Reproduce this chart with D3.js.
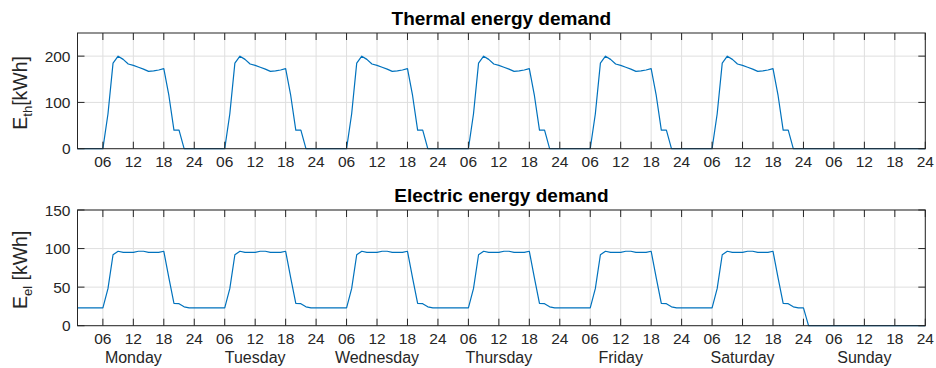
<!DOCTYPE html>
<meta charset="utf-8" />
<style>
  body { margin: 0; background: #fff; }
  text { font-family: "Liberation Sans", Arial, Helvetica, sans-serif; fill: #262626; }
  .grid line { stroke: #dfdfdf; stroke-width: 1px; }
  .frame { fill: none; stroke: #262626; stroke-width: 1px; }
  .tick { stroke: #262626; stroke-width: 1px; }
  .line { fill: none; stroke: #0072bd; stroke-width: 1.2px; stroke-linejoin: round; }
</style>
<body>
  <script src="https://d3js.org/d3.v7.min.js"></script>
  <script>
    // days of the week
    var days = ['Monday', 'Tuesday', 'Wednesday', 'Thursday', 'Friday', 'Saturday', 'Sunday'];
    var hourLabels = ['06', '12', '18', '24'];

    // hourly profiles (hour 1..24 of a day)
    var thermalWorkday = [0, 0, 0, 0, 0, 0, 75, 185, 200, 193, 183, 180, 176, 172, 167, 168, 170, 173, 115, 40, 40, 0, 0, 0];
    var thermalOff = [0, 0, 0, 0, 0, 0, 0, 0, 0, 0, 0, 0, 0, 0, 0, 0, 0, 0, 0, 0, 0, 0, 0, 0];
    var electricWorkday = [23, 23, 23, 23, 23, 23, 48, 92, 96.5, 95, 95, 95, 96.5, 96.5, 95, 95, 95, 96.5, 62, 29, 28.5, 24.5, 23, 23];
    var electricOff = [0, 0, 0, 0, 0, 0, 0, 0, 0, 0, 0, 0, 0, 0, 0, 0, 0, 0, 0, 0, 0, 0, 0, 0];

    // which profile each day uses
    var thermalByDay = [thermalWorkday, thermalWorkday, thermalWorkday, thermalWorkday, thermalWorkday, thermalWorkday, thermalOff];
    var electricByDay = [electricWorkday, electricWorkday, electricWorkday, electricWorkday, electricWorkday, electricWorkday, electricOff];

    // hour index runs 1..168 like the original
    var toSeries = function(byDay) {
      var out = [];
      byDay.forEach(function(profile, d) {
        profile.forEach(function(v, h) {
          out.push({ hour: d * 24 + h + 1, value: v });
        });
      });
      return out;
    };
    var thermal = toSeries(thermalByDay);
    var electric = toSeries(electricByDay);

    var W = 936, H = 368;
    var svg = d3.select('body').append('svg').attr('width', W).attr('height', H);

    var x = d3.scaleLinear().domain([1, 168]).range([77.5, 925.3]);
    var xTicks = d3.range(6, 169, 6);

    function panel(opts) {
      var y = d3.scaleLinear().domain([0, opts.ymax]).range([opts.bottom, opts.top]);
      var g = svg.append('g');
      var x0 = x.range()[0], x1 = x.range()[1];
      var tl = 7;

      // grid
      var grid = g.append('g').attr('class', 'grid');
      grid.selectAll('.gx').data(xTicks).enter().append('line')
        .attr('x1', function(d) { return x(d); }).attr('x2', function(d) { return x(d); })
        .attr('y1', opts.top).attr('y2', opts.bottom);
      grid.selectAll('.gy').data(opts.yTicks).enter().append('line')
        .attr('x1', x0).attr('x2', x1)
        .attr('y1', function(d) { return y(d); }).attr('y2', function(d) { return y(d); });

      // data line
      g.append('path')
        .datum(opts.data)
        .attr('class', 'line')
        .attr('d', d3.line()
          .x(function(d) { return x(d.hour); })
          .y(function(d) { return y(d.value); }));

      // box
      g.append('rect').attr('class', 'frame')
        .attr('x', x0).attr('y', opts.top)
        .attr('width', x1 - x0).attr('height', opts.bottom - opts.top);

      // inward ticks, all four sides
      xTicks.forEach(function(t) {
        g.append('line').attr('class', 'tick')
          .attr('x1', x(t)).attr('x2', x(t)).attr('y1', opts.bottom).attr('y2', opts.bottom - tl);
        g.append('line').attr('class', 'tick')
          .attr('x1', x(t)).attr('x2', x(t)).attr('y1', opts.top).attr('y2', opts.top + tl);
      });
      opts.yTicks.forEach(function(t) {
        g.append('line').attr('class', 'tick')
          .attr('x1', x0).attr('x2', x0 + tl).attr('y1', y(t)).attr('y2', y(t));
        g.append('line').attr('class', 'tick')
          .attr('x1', x1).attr('x2', x1 - tl).attr('y1', y(t)).attr('y2', y(t));
      });

      // tick labels
      g.selectAll('.xl').data(xTicks).enter().append('text')
        .attr('x', function(d) { return x(d); })
        .attr('y', opts.bottom + 18)
        .attr('text-anchor', 'middle')
        .style('font-size', '15.5px')
        .text(function(d, i) { return hourLabels[i % 4]; });
      g.selectAll('.yl').data(opts.yTicks).enter().append('text')
        .attr('x', x0 - 7)
        .attr('y', function(d) { return y(d); })
        .attr('dy', '0.36em')
        .attr('text-anchor', 'end')
        .style('font-size', '15.5px')
        .text(function(d) { return d; });

      // title
      g.append('text')
        .attr('x', (x0 + x1) / 2).attr('y', opts.top - 8)
        .attr('text-anchor', 'middle')
        .style('font-size', '19px').style('font-weight', 'bold')
        .style('fill', '#000')
        .text(opts.title);

      // y label with subscript
      var yl = g.append('text')
        .attr('transform', 'translate(' + 27 + ',' + ((opts.top + opts.bottom) / 2 + 2) + ') rotate(-90)')
        .attr('text-anchor', 'middle')
        .style('font-size', '19.5px');
      yl.append('tspan').text('E');
      yl.append('tspan').attr('dy', 5).style('font-size', '13px').text(opts.sub);
      yl.append('tspan').attr('dy', -5).text(opts.unit);

      return g;
    }

    panel({
      title: 'Thermal energy demand', top: 33, bottom: 148.7, ymax: 250,
      yTicks: [0, 100, 200], data: thermal, sub: 'th', unit: '[kWh]'
    });
    var bottomPanel = panel({
      title: 'Electric energy demand', top: 210, bottom: 325.7, ymax: 150,
      yTicks: [0, 50, 100, 150], data: electric, sub: 'el', unit: ' [kWh]'
    });

    // day names under the bottom axis
    bottomPanel.selectAll('.day').data(days).enter().append('text')
      .attr('x', function(d, i) { return x(i * 24 + 12); })
      .attr('y', 363)
      .attr('text-anchor', 'middle')
      .style('font-size', '16px')
      .text(function(d) { return d; });
  </script>
</body>
